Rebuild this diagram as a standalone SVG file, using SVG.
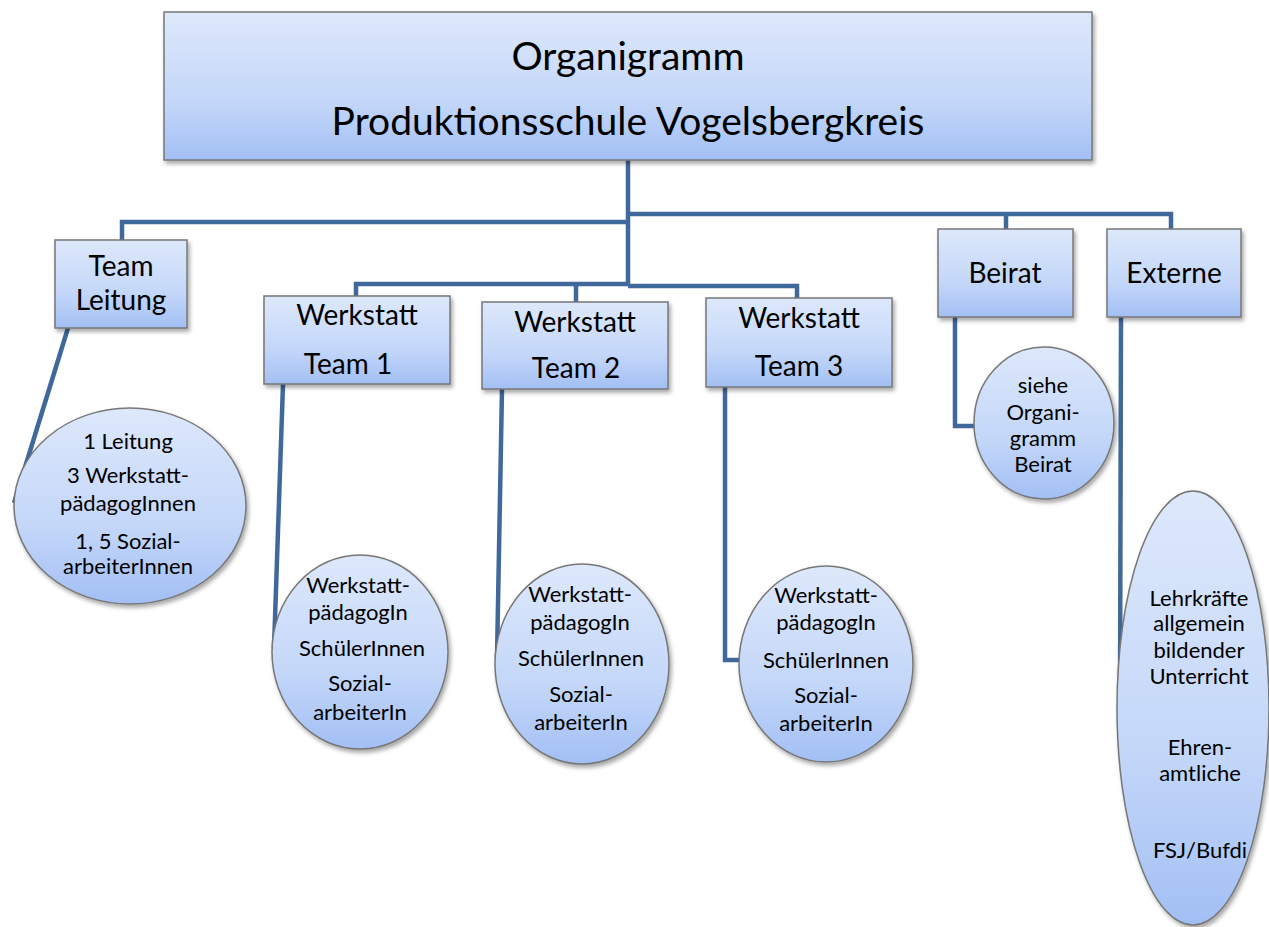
<svg xmlns="http://www.w3.org/2000/svg" width="1269" height="927" viewBox="0 0 1269 927">
<defs>
<linearGradient id="g" x1="0" y1="0" x2="0" y2="1">
<stop offset="0" stop-color="#dde8fb"/>
<stop offset="0.6" stop-color="#c4d7f9"/>
<stop offset="1" stop-color="#a2bff4"/>
</linearGradient>
<filter id="sh" x="-10%" y="-10%" width="130%" height="130%">
<feDropShadow dx="2" dy="3" stdDeviation="2" flood-color="#000" flood-opacity="0.35"/>
</filter>
</defs>
<style>
.n{fill:url(#g);stroke:#777;stroke-width:1.5;filter:url(#sh)}
.c{fill:none;stroke:#41689a;stroke-width:4.5;stroke-linejoin:miter}
text{font-family:Lato,"Open Sans","Liberation Sans",sans-serif;fill:#000;text-anchor:middle}
.t1{font-size:39px}
.t2{font-size:28px}
.t3{font-size:22px}
</style>
<rect width="1269" height="927" fill="#fff"/>
<g id="connectors">
<path class="c" d="M628 160 V285"/>
<path class="c" d="M628 222 H122 V240"/>
<path class="c" d="M628 214 H1171 V230"/>
<path class="c" d="M1006 214 V230"/>
<path class="c" d="M628 284 H356 V296"/>
<path class="c" d="M576 284 V302"/>
<path class="c" d="M628 286 H797 V298"/>
<path class="c" d="M68 328 L14 503"/>
<path class="c" d="M283 384 L274 648"/>
<path class="c" d="M502 389 L497 658"/>
<path class="c" d="M725 387 V660 H740"/>
<path class="c" d="M955 317 V426 H975"/>
<path class="c" d="M1121 317 L1120 708"/>
</g>
<g id="root">
<rect class="n" x="164" y="12" width="928" height="148"/>
<text class="t1" x="628" y="70">Organigramm</text>
<text class="t1" x="628" y="135">Produktionsschule Vogelsbergkreis</text>
</g>
<g id="teamleitung">
<rect class="n" x="55" y="240" width="132" height="88"/>
<text class="t2" x="121" y="276">Team</text>
<text class="t2" x="121" y="310">Leitung</text>
</g>
<g id="werkstatt1">
<rect class="n" x="264" y="296" width="186" height="88"/>
<text class="t2" x="357" y="325">Werkstatt</text>
<text class="t2" x="348" y="374">Team 1</text>
</g>
<g id="werkstatt2">
<rect class="n" x="482" y="302" width="186" height="87"/>
<text class="t2" x="575" y="332">Werkstatt</text>
<text class="t2" x="576" y="378">Team 2</text>
</g>
<g id="werkstatt3">
<rect class="n" x="706" y="298" width="186" height="89"/>
<text class="t2" x="799" y="328">Werkstatt</text>
<text class="t2" x="799" y="376">Team 3</text>
</g>
<g id="beirat">
<rect class="n" x="938" y="229" width="135" height="88"/>
<text class="t2" x="1005" y="283">Beirat</text>
</g>
<g id="externe">
<rect class="n" x="1107" y="229" width="134" height="88"/>
<text class="t2" x="1174" y="283">Externe</text>
</g>
<g id="leitung-staff">
<ellipse class="n" cx="130" cy="506" rx="116" ry="98"/>
<text class="t3" x="128" y="449">1 Leitung</text>
<text class="t3" x="128" y="483">3 Werkstatt-</text>
<text class="t3" x="128" y="511">pädagogInnen</text>
<text class="t3" x="128" y="549">1, 5 Sozial-</text>
<text class="t3" x="128" y="574">arbeiterInnen</text>
</g>
<g id="team1-staff">
<ellipse class="n" cx="360" cy="652" rx="88" ry="97"/>
<text class="t3" x="358" y="593">Werkstatt-</text>
<text class="t3" x="358" y="620">pädagogIn</text>
<text class="t3" x="362" y="656">SchülerInnen</text>
<text class="t3" x="360" y="691">Sozial-</text>
<text class="t3" x="360" y="720">arbeiterIn</text>
</g>
<g id="team2-staff">
<ellipse class="n" cx="582" cy="664" rx="87" ry="100"/>
<text class="t3" x="580" y="602">Werkstatt-</text>
<text class="t3" x="580" y="630">pädagogIn</text>
<text class="t3" x="581" y="666">SchülerInnen</text>
<text class="t3" x="581" y="702">Sozial-</text>
<text class="t3" x="581" y="730">arbeiterIn</text>
</g>
<g id="team3-staff">
<ellipse class="n" cx="826" cy="664" rx="87" ry="98"/>
<text class="t3" x="826" y="603">Werkstatt-</text>
<text class="t3" x="826" y="630">pädagogIn</text>
<text class="t3" x="826" y="668">SchülerInnen</text>
<text class="t3" x="826" y="703">Sozial-</text>
<text class="t3" x="826" y="731">arbeiterIn</text>
</g>
<g id="beirat-note">
<ellipse class="n" cx="1044" cy="423" rx="70" ry="76"/>
<text class="t3" x="1043" y="393">siehe</text>
<text class="t3" x="1043" y="420">Organi-</text>
<text class="t3" x="1043" y="446">gramm</text>
<text class="t3" x="1043" y="472">Beirat</text>
</g>
<g id="externe-staff">
<ellipse class="n" cx="1193" cy="708" rx="76" ry="217"/>
<text class="t3" x="1199" y="606">Lehrkräfte</text>
<text class="t3" x="1199" y="631">allgemein</text>
<text class="t3" x="1199" y="658">bildender</text>
<text class="t3" x="1199" y="684">Unterricht</text>
<text class="t3" x="1200" y="755">Ehren-</text>
<text class="t3" x="1200" y="781">amtliche</text>
<text class="t3" x="1200" y="858">FSJ/Bufdi</text>
</g>
</svg>
